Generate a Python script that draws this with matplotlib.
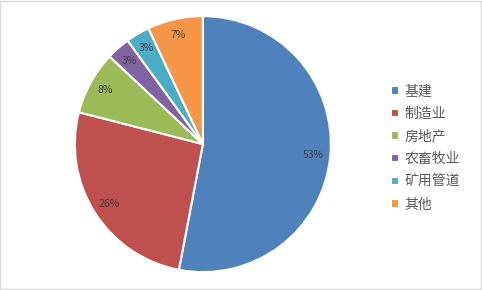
import matplotlib.pyplot as plt
from matplotlib.patches import Rectangle

plt.rcParams['font.family'] = ['Noto Sans CJK SC', 'DejaVu Sans']

labels = ['基建', '制造业', '房地产', '农畜牧业', '矿用管道', '其他']
shares = [53, 26, 8, 3, 3, 7]
colors = ['#4F81BD', '#C0504D', '#9BBB59', '#8064A2', '#4BACC6', '#F79646']

fig = plt.figure(figsize=(4.82, 2.90), dpi=100)
fig.patches.append(Rectangle((0.001, 0.003), 0.997, 0.994, transform=fig.transFigure,
                             fill=False, edgecolor='#D9D9D9', linewidth=1))

ax = fig.add_axes([0.421 - 0.2656, 0.503 - 0.4414, 0.531, 0.883])
wedges, texts, autotexts = ax.pie(
    shares, colors=colors, startangle=90, counterclock=False,
    autopct=lambda p: '%d%%' % round(p), pctdistance=0.87,
    wedgeprops=dict(edgecolor='white', linewidth=1.5),
    textprops=dict(color='#404040', fontsize=7.5))
ax.set_aspect('equal')
ax.set_xlim(-1.0, 1.0)
ax.set_ylim(-1.0, 1.0)

fig.legend(wedges, labels, loc='center left', bbox_to_anchor=(0.785, 0.49),
           frameon=False, fontsize=10, labelcolor='#595959',
           handlelength=0.55, handleheight=0.55, handletextpad=0.45,
           labelspacing=0.62)

fig.savefig('out.png', dpi=100)
